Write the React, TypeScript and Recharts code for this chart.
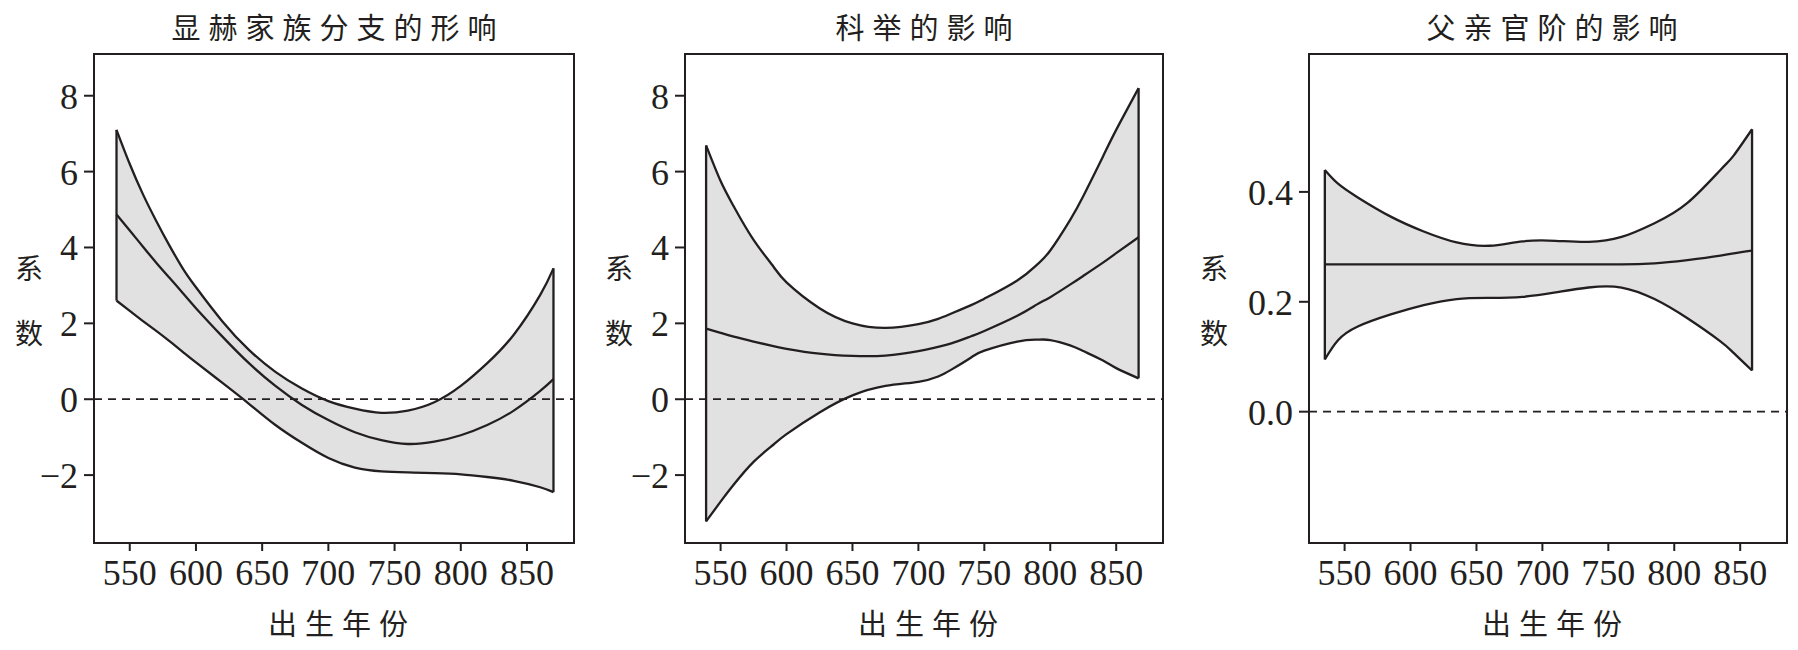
import React from "react"
import {
  ComposedChart,
  Area,
  Line,
  XAxis,
  YAxis,
  ReferenceLine,
  ReferenceArea,
} from "recharts"

// panel 1: 显赫家族分支的形响
const P1_YEARS = [540, 550, 560, 570, 580, 590, 600, 620, 640, 660, 680, 700, 720, 740, 760, 780, 800, 820, 840, 860, 870]
const P1_UPPER = [7.1, 6.2, 5.4, 4.7, 4.05, 3.45, 2.95, 2.05, 1.3, 0.72, 0.28, -0.05, -0.25, -0.36, -0.3, -0.08, 0.35, 0.95, 1.7, 2.75, 3.45]
const P1_MID = [4.87, 4.45, 4.02, 3.6, 3.2, 2.8, 2.4, 1.65, 0.95, 0.35, -0.15, -0.55, -0.87, -1.08, -1.18, -1.12, -0.95, -0.68, -0.3, 0.22, 0.53]
const P1_LOWER = [2.6, 2.33, 2.06, 1.8, 1.53, 1.25, 0.97, 0.43, -0.12, -0.68, -1.15, -1.55, -1.8, -1.9, -1.93, -1.95, -1.98, -2.05, -2.15, -2.32, -2.45]

// panel 2: 科举的影响
const P2_YEARS = [539, 550, 560, 575, 590, 600, 625, 650, 675, 700, 715, 725, 740, 750, 775, 790, 800, 815, 825, 840, 850, 867]
const P2_UPPER = [6.69, 5.75, 5.08, 4.2, 3.5, 3.08, 2.4, 2.0, 1.88, 1.98, 2.12, 2.26, 2.48, 2.65, 3.13, 3.55, 3.92, 4.72, 5.35, 6.4, 7.1, 8.2]
const P2_MID = [1.86, 1.75, 1.65, 1.52, 1.4, 1.33, 1.2, 1.14, 1.15, 1.27, 1.38, 1.47, 1.66, 1.8, 2.2, 2.5, 2.69, 3.02, 3.25, 3.6, 3.85, 4.27]
const P2_LOWER = [-3.22, -2.7, -2.25, -1.65, -1.2, -0.92, -0.35, 0.1, 0.35, 0.46, 0.6, 0.78, 1.1, 1.28, 1.52, 1.57, 1.56, 1.42, 1.27, 1.02, 0.82, 0.55]

// panel 3: 父亲官阶的影响
const P3_YEARS = [535, 545, 560, 585, 610, 635, 660, 685, 710, 735, 760, 785, 810, 835, 845, 859]
const P3_UPPER = [0.44, 0.415, 0.39, 0.355, 0.328, 0.308, 0.302, 0.31, 0.311, 0.309, 0.318, 0.343, 0.38, 0.44, 0.466, 0.514]
const P3_MID = [0.268, 0.268, 0.268, 0.268, 0.268, 0.268, 0.268, 0.268, 0.268, 0.268, 0.268, 0.27, 0.276, 0.284, 0.288, 0.293]
const P3_LOWER = [0.095, 0.13, 0.155, 0.177, 0.194, 0.205, 0.207, 0.209, 0.217, 0.226, 0.226, 0.205, 0.17, 0.128, 0.107, 0.075]

const X_TICKS = [550, 600, 650, 700, 750, 800, 850]
const COEF_TICKS = [-2, 0, 2, 4, 6, 8]
const RANK_TICKS = [0, 0.2, 0.4]

const X_DOMAIN: [number, number] = [523, 885.5]
const INK = "#231f20"
const BAND = "#e1e1e1"
const CJK = "'Noto Sans CJK SC', sans-serif"
const SERIF = "'Liberation Serif', 'Times New Roman', serif"
const TICK_SIZE = 36

function buildRows(years: number[], lo: number[], mid: number[], hi: number[]) {
  return years.map((year, i) => ({ year, band: [lo[i], hi[i]], lo: lo[i], mid: mid[i], hi: hi[i] }))
}

function formatInt(v: number) {
  return v < 0 ? `\u2212${Math.abs(v)}` : String(v)
}

function XTick(props: any) {
  const { x, y, payload } = props
  return (
    <text
      x={x}
      y={y + 6}
      textAnchor="middle"
      dominantBaseline="hanging"
      style={{ fontFamily: SERIF, fontSize: TICK_SIZE, fill: INK }}
    >
      {payload.value}
    </text>
  )
}

function makeYTick(fmt: (v: number) => string) {
  return function YTick(props: any) {
    const { x, y, payload } = props
    return (
      <text
        x={x - 4}
        y={y + 1}
        textAnchor="end"
        dominantBaseline="central"
        style={{ fontFamily: SERIF, fontSize: TICK_SIZE, fill: INK }}
      >
        {fmt(payload.value)}
      </text>
    )
  }
}

interface PanelProps {
  left: number
  width: number
  years: number[]
  lower: number[]
  mid: number[]
  upper: number[]
  yDomain: [number, number]
  yTicks: number[]
  yFormat: (v: number) => string
  title: string
  yLabelX: number
  titleX: number
  midCurve: "natural" | "monotone"
}

function Panel(p: PanelProps) {
  const rows = buildRows(p.years, p.lower, p.mid, p.upper)
  const first = rows[0]
  const last = rows[rows.length - 1]
  const frameLeft = p.left + 94
  const frameRight = p.left + p.width - 10
  const YTick = makeYTick(p.yFormat)
  return (
    <>
      <div
        style={{
          position: "absolute",
          left: p.titleX,
          top: 26,
          transform: "translate(-50%, -50%)",
          fontFamily: CJK,
          fontSize: 29,
          letterSpacing: 8,
          color: INK,
          whiteSpace: "nowrap",
        }}
      >
        {p.title}
      </div>
      <div style={{ position: "absolute", left: p.left, top: 0 }}>
        <ComposedChart
          width={p.width}
          height={650}
          data={rows}
          margin={{ top: 54, right: 10, bottom: 67, left: 14 }}
        >
          <XAxis
            type="number"
            dataKey="year"
            domain={X_DOMAIN}
            ticks={X_TICKS}
            allowDataOverflow
            height={40}
            tickSize={8}
            tick={<XTick />}
            axisLine={{ stroke: INK, strokeWidth: 2 }}
            tickLine={{ stroke: INK, strokeWidth: 2 }}
          />
          <YAxis
            type="number"
            domain={p.yDomain}
            ticks={p.yTicks}
            allowDataOverflow
            width={80}
            tickSize={10}
            tick={<YTick />}
            axisLine={{ stroke: INK, strokeWidth: 2 }}
            tickLine={{ stroke: INK, strokeWidth: 2 }}
          />
          <Area
            type="natural"
            dataKey="band"
            fill={BAND}
            fillOpacity={1}
            stroke="none"
            isAnimationActive={false}
          />
          <Line type="natural" dataKey="hi" stroke={INK} strokeWidth={2.3} dot={false} isAnimationActive={false} />
          <Line type="natural" dataKey="lo" stroke={INK} strokeWidth={2.3} dot={false} isAnimationActive={false} />
          <Line type={p.midCurve} dataKey="mid" stroke={INK} strokeWidth={2.3} dot={false} isAnimationActive={false} />
          <ReferenceLine
            segment={[{ x: first.year, y: first.lo }, { x: first.year, y: first.hi }]}
            stroke={INK}
            strokeWidth={2.3}
          />
          <ReferenceLine
            segment={[{ x: last.year, y: last.lo }, { x: last.year, y: last.hi }]}
            stroke={INK}
            strokeWidth={2.3}
          />
          <ReferenceLine y={0} stroke={INK} strokeWidth={1.8} strokeDasharray="8 6" />
          <ReferenceArea
            x1={X_DOMAIN[0]}
            x2={X_DOMAIN[1]}
            y1={p.yDomain[0]}
            y2={p.yDomain[1]}
            fill="none"
            stroke={INK}
            strokeWidth={2}
            ifOverflow="visible"
          />
        </ComposedChart>
      </div>
      <div
        style={{
          position: "absolute",
          left: p.yLabelX,
          top: 300,
          transform: "translate(-50%, -50%)",
          fontFamily: CJK,
          fontSize: 28,
          lineHeight: "65px",
          color: INK,
          textAlign: "center",
        }}
      >
        系<br />数
      </div>
      <div
        style={{
          position: "absolute",
          left: (frameLeft + frameRight) / 2 + 8,
          top: 622,
          transform: "translate(-50%, -50%)",
          fontFamily: CJK,
          fontSize: 29,
          letterSpacing: 8,
          color: INK,
          whiteSpace: "nowrap",
        }}
      >
        出生年份
      </div>
    </>
  )
}

export default function App() {
  return (
    <div
      style={{
        position: "absolute",
        left: 0,
        top: 0,
        width: 1798,
        height: 650,
        background: "#fff",
        overflow: "hidden",
      }}
    >
      <Panel
        left={0}
        width={584}
        years={P1_YEARS}
        lower={P1_LOWER}
        mid={P1_MID}
        upper={P1_UPPER}
        yDomain={[-3.79, 9.1]}
        yTicks={COEF_TICKS}
        yFormat={formatInt}
        title="显赫家族分支的形响"
        yLabelX={29}
        titleX={338}
        midCurve="natural"
      />
      <Panel
        left={591}
        width={582}
        years={P2_YEARS}
        lower={P2_LOWER}
        mid={P2_MID}
        upper={P2_UPPER}
        yDomain={[-3.79, 9.1]}
        yTicks={COEF_TICKS}
        yFormat={formatInt}
        title="科举的影响"
        yLabelX={619}
        titleX={928}
        midCurve="natural"
      />
      <Panel
        left={1215}
        width={582}
        years={P3_YEARS}
        lower={P3_LOWER}
        mid={P3_MID}
        upper={P3_UPPER}
        yDomain={[-0.239, 0.651]}
        yTicks={RANK_TICKS}
        yFormat={(v: number) => v.toFixed(1)}
        title="父亲官阶的影响"
        yLabelX={1214}
        titleX={1556}
        midCurve="monotone"
      />
    </div>
  )
}
